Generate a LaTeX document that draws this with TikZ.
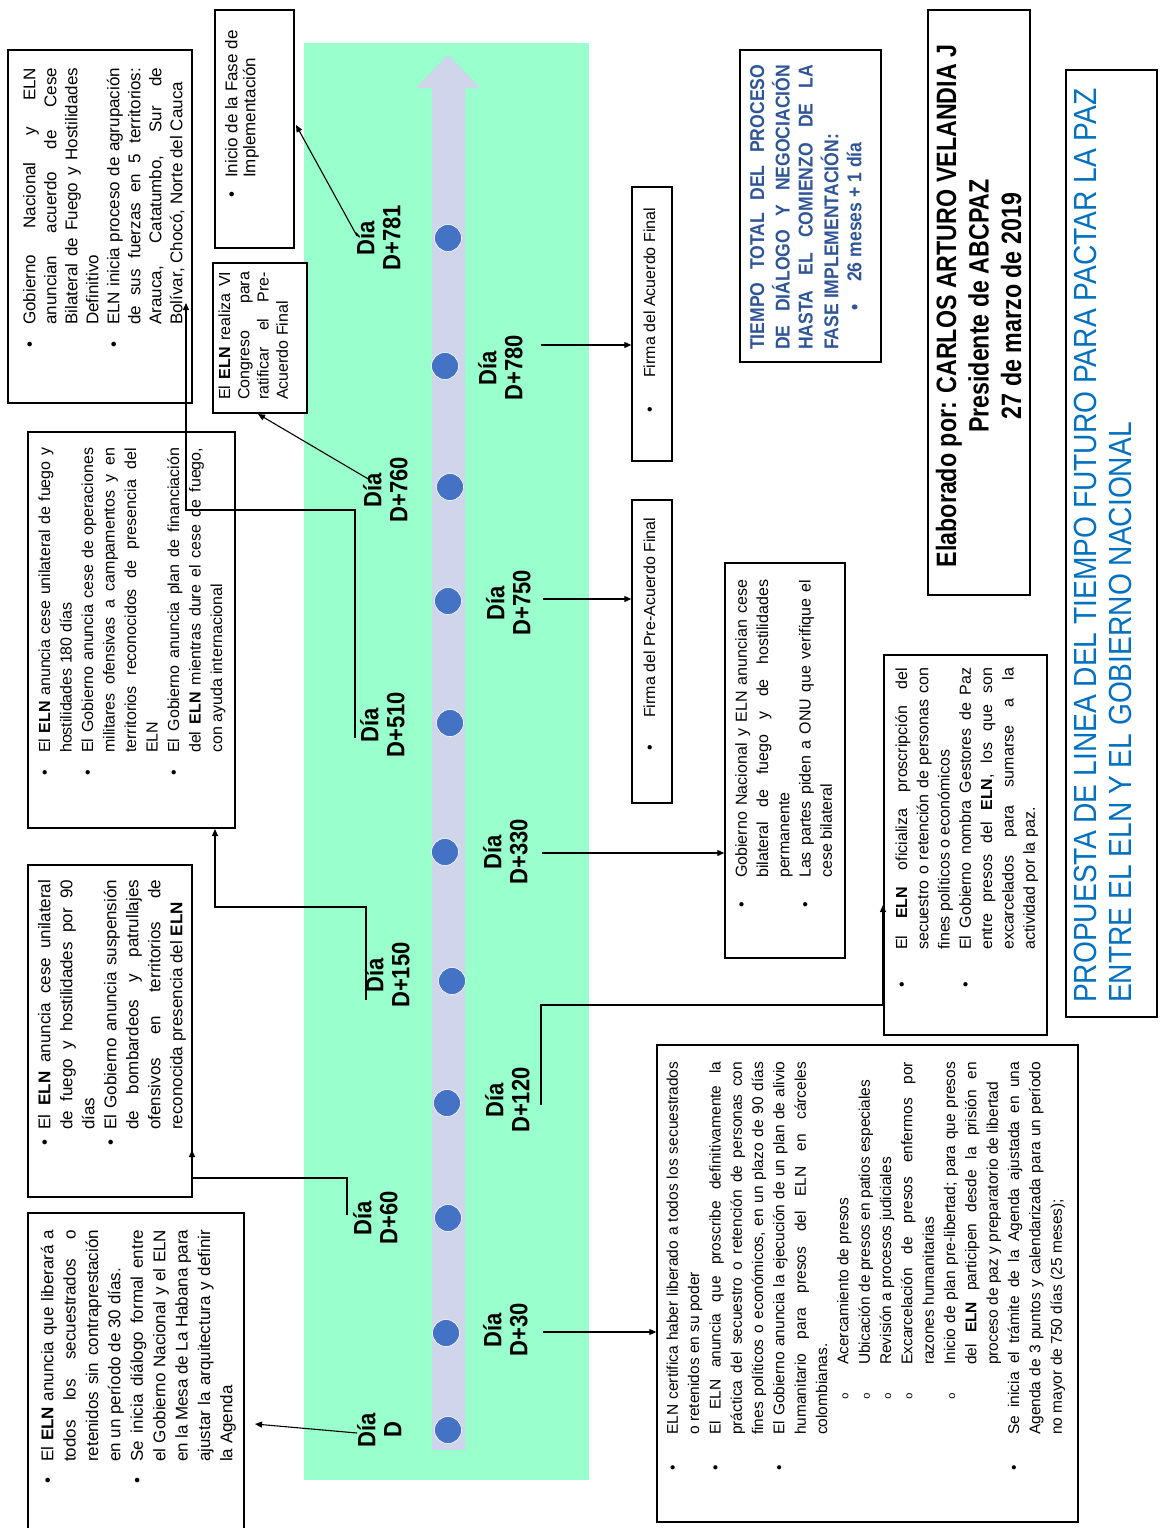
\documentclass[tikz,border=0pt]{standalone}
\usepackage{fontspec}
\setmainfont{Liberation Sans}
\newfontfamily\cond{Liberation Sans}[FakeStretch=0.88]
\newfontfamily\condb{Liberation Sans}[FakeStretch=0.83]
\newfontfamily\monof{Liberation Mono}
\usetikzlibrary{arrows.meta,fit}
\definecolor{mint}{RGB}{153,255,204}
\definecolor{lav}{RGB}{207,213,234}
\definecolor{dotblue}{RGB}{68,114,196}
\definecolor{tblue}{RGB}{47,85,151}
\definecolor{titleblue}{RGB}{0,112,192}
\newcommand\bul[1]{\strut\makebox[#1pt][l]{\textbullet}}
\newcommand\ind[1]{\strut\makebox[#1pt]{}}
\newcommand\jus[2]{\makebox[#1pt][s]{#2}}
\newcommand\subo{\ind{71}\makebox[35pt][l]{\monof\fontsize{11}{11}\selectfont o}}
\begin{document}
\begin{tikzpicture}[x=1pt,y=-1pt,
  box/.style={draw=black, line width=1.4pt, fill=white, inner sep=0pt},
  txt/.style={rotate=90, anchor=north west, align=left, inner sep=0pt, text=black},
  lbl/.style={rotate=90, align=center, inner sep=0pt, font=\cond\bfseries\fontsize{25}{26}\selectfont},
  tdot/.style={circle, fill=dotblue, draw=white, line width=0.6pt, minimum size=27pt, inner sep=0pt},
  conn/.style={draw=black, line width=1.1pt, -{Triangle[length=7pt,width=6pt]}},
  elbow/.style={draw=black, line width=1.4pt, -{Triangle[length=7pt,width=6pt]}}
]
\useasboundingbox (0,0) rectangle (1159,1528);
\clip (0,0) rectangle (1159,1528);
\fill[white] (0,0) rectangle (1159,1528);

% green band and timeline arrow
\fill[mint] (304,43) rectangle (589,1480);
\fill[lav] (432,1450) -- (432,88) -- (416,88) -- (448,55) -- (480,88) -- (465,88) -- (465,1450) -- cycle;

% dots
\node[tdot] (dD) at (448,1430) {};
\node[tdot] (d30) at (446,1333) {};
\node[tdot] (d60) at (448,1218) {};
\node[tdot] (d120) at (447,1103) {};
\node[tdot] (d150) at (452,981) {};
\node[tdot] (d330) at (445,852) {};
\node[tdot] (d510) at (450,723) {};
\node[tdot] (d750) at (448,601) {};
\node[tdot] (d760) at (450,487) {};
\node[tdot] (d780) at (445,366) {};
\node[tdot] (d781) at (448,238) {};

% day labels
\node[lbl] (lD) at (383,1430) {\strut Día\\\strut D};
\node[lbl] (l30) at (509,1330) {\strut Día\\\strut D+30};
\node[lbl] (l60) at (379,1218) {\strut Día\\\strut D+60};
\node[lbl] (l120) at (511,1100) {\strut Día\\\strut D+120};
\node[lbl] (l150) at (391,975) {\strut Día\\\strut D+150};
\node[lbl] (l330) at (509,852) {\strut Día\\\strut D+330};
\node[lbl] (l510) at (386,725) {\strut Día\\\strut D+510};
\node[lbl] (l750) at (512,603) {\strut Día\\\strut D+750};
\node[lbl] (l760) at (389,490) {\strut Día\\\strut D+760};
\node[lbl] (l780) at (504,368) {\strut Día\\\strut D+780};
\node[lbl] (l781) at (382,238) {\strut Día\\\strut D+781};

% boxes
\node[box, fit={(8,50) (192,403)}] (A) {};
\node[box, fit={(215,10) (294,248)}] (K) {};
\node[box, fit={(213,263) (307,413)}] (D) {};
\node[box, fit={(28,432) (235,828)}] (C) {};
\node[box, fit={(28,865) (192,1197)}] (B) {};
\node[box, fit={(28,1213) (244,1540)}] (E) {};
\node[box, fit={(632,187) (672,461)}] (J) {};
\node[box, fit={(632,500) (672,803)}] (I) {};
\node[box, fit={(725,563) (845,958)}] (H) {};
\node[box, fit={(884,655) (1047,1035)}] (G) {};
\node[box, fit={(657,1045) (1078,1522)}] (F) {};
\node[box, fit={(740,50) (881,362)}] (L) {};
\node[box, fit={(928,10) (1030,595)}] (M) {};
\node[box, fit={(1066,70) (1157,1017)}] (N) {};

% box texts
\node[txt, font=\fontsize{17}{22.4}\selectfont] (tE) at (37.4,1484) {%
\bul{22}\jus{232}{El \textbf{ELN} anuncia que liberará a}\\
\ind{22}\jus{232}{todos los secuestrados o}\\
\ind{22}\jus{232}{retenidos sin contraprestación}\\
\ind{22}en un período de 30 días.\\
\bul{22}\jus{232}{Se inicia diálogo formal entre}\\
\ind{22}\jus{232}{el Gobierno Nacional y el ELN}\\
\ind{22}\jus{232}{en la Mesa de La Habana para}\\
\ind{22}\jus{232}{ajustar la arquitectura y definir}\\
\ind{22}la Agenda};

\node[txt, font=\fontsize{17}{22}\selectfont] (tB) at (34.7,1146) {%
\bul{16}\jus{250}{El \textbf{ELN} anuncia cese unilateral}\\
\ind{16}\jus{250}{de fuego y hostilidades por 90}\\
\ind{16}días\\
\bul{16}\jus{250}{El Gobierno anuncia suspensión}\\
\ind{16}\jus{250}{de bombardeos y patrullajes}\\
\ind{16}\jus{250}{ofensivos en territorios de}\\
\ind{16}reconocida presencia del \textbf{ELN}};

\node[txt, font=\fontsize{16}{21.5}\selectfont] (tC) at (34.75,776) {%
\bul{23}\jus{305}{El \textbf{ELN} anuncia cese unilateral de fuego y}\\
\ind{23}hostilidades 180 días\\
\bul{23}\jus{305}{El Gobierno anuncia cese de operaciones}\\
\ind{23}\jus{305}{militares ofensivas a campamentos y en}\\
\ind{23}\jus{305}{territorios reconocidos de presencia del}\\
\ind{23}ELN\\
\bul{23}\jus{305}{El Gobierno anuncia plan de financiación}\\
\ind{23}\jus{305}{del \textbf{ELN} mientras dure el cese de fuego,}\\
\ind{23}con ayuda internacional};

\node[txt, font=\fontsize{17}{21}\selectfont] (tA) at (20.4,348) {%
\bul{23}\jus{257}{Gobierno Nacional y ELN}\\
\ind{23}\jus{257}{anuncian acuerdo de Cese}\\
\ind{23}\jus{257}{Bilateral de Fuego y Hostilidades}\\
\ind{23}Definitivo\\
\bul{23}\jus{257}{ELN inicia proceso de agrupación}\\
\ind{23}\jus{257}{de sus fuerzas en 5 territorios:}\\
\ind{23}\jus{257}{Arauca, Catatumbo, Sur de}\\
\ind{23}Bolívar, Chocó, Norte del Cauca};

\node[txt, font=\fontsize{17}{18}\selectfont] (tK) at (224.5,198) {%
\bul{20}Inicio de la Fase de\\
\ind{20}Implementación};

\node[txt, font=\fontsize{16}{19.3}\selectfont] (tD) at (216.3,400) {%
\strut\jus{128}{El \textbf{ELN} realiza VI}\\
\strut\jus{128}{Congreso para}\\
\strut\jus{128}{ratificar el Pre-}\\
\strut Acuerdo Final};

\node[txt, font=\fontsize{16}{20}\selectfont] (tJ) at (640.8,413) {\bul{35}Firma del Acuerdo Final};
\node[txt, font=\fontsize{16}{20}\selectfont] (tI) at (640.8,751) {\bul{33}Firma del Pre-Acuerdo Final};

\node[txt, font=\fontsize{16}{21.25}\selectfont] (tH) at (731.9,908) {%
\bul{30}\jus{298}{Gobierno Nacional y ELN anuncian cese}\\
\ind{30}\jus{298}{bilateral de fuego y de hostilidades}\\
\ind{30}permanente\\
\bul{30}\jus{298}{Las partes piden a ONU que verifique el}\\
\ind{30}cese bilateral};

\node[txt, font=\fontsize{16}{21.3}\selectfont] (tG) at (891.9,988) {%
\bul{38}\jus{282}{El \textbf{ELN} oficializa proscripción del}\\
\ind{38}\jus{282}{secuestro o retención de personas con}\\
\ind{38}fines políticos o económicos\\
\bul{38}\jus{282}{El Gobierno nombra Gestores de Paz}\\
\ind{38}\jus{282}{entre presos del \textbf{ELN}, los que son}\\
\ind{38}\jus{282}{excarcelados para sumarse a la}\\
\ind{38}actividad por la paz.};

\node[txt, font=\fontsize{15.5}{21.33}\selectfont] (tF) at (662.7,1471) {%
\bul{36}\jus{373}{ELN certifica haber liberado a todos los secuestrados}\\
\ind{36}o retenidos en su poder\\
\bul{36}\jus{373}{El ELN anuncia que proscribe definitivamente la}\\
\ind{36}\jus{373}{práctica del secuestro o retención de personas con}\\
\ind{36}\jus{373}{fines políticos o económicos, en un plazo de 90 días}\\
\bul{36}\jus{373}{El Gobierno anuncia la ejecución de un plan de alivio}\\
\ind{36}\jus{373}{humanitario para presos del ELN en cárceles}\\
\ind{36}colombianas.\\
\subo Acercamiento de presos\\
\subo Ubicación de presos en patios especiales\\
\subo Revisión a procesos judiciales\\
\subo\jus{303}{Excarcelación de presos enfermos por}\\
\ind{106}razones humanitarias\\
\subo\jus{303}{Inicio de plan pre-libertad; para que presos}\\
\ind{106}\jus{303}{del \textbf{ELN} participen desde la prisión en}\\
\ind{106}proceso de paz y preparatorio de libertad\\
\bul{36}\jus{373}{Se inicia el trámite de la Agenda ajustada en una}\\
\ind{36}\jus{373}{Agenda de 3 puntos y calendarizada para un período}\\
\ind{36}no mayor de 750 días (25 meses);};

\node[txt, text=tblue, font=\cond\bfseries\fontsize{20}{23}\selectfont] (tL) at (747.7,350) {%
\strut\jus{285}{TIEMPO TOTAL DEL PROCESO}\\
\strut\jus{285}{DE DIÁLOGO Y NEGOCIACIÓN}\\
\strut\jus{285}{HASTA EL COMIENZO DE LA}\\
\strut FASE IMPLEMENTACIÓN:\\
\ind{39}\makebox[29pt][l]{\textbullet}26 meses + 1 día};

\node[rotate=90, align=center, inner sep=0pt, font=\condb\bfseries\fontsize{28}{32.5}\selectfont] (tM) at (982,306) {%
\strut Elaborado por: CARLOS ARTURO VELANDIA J\\
\strut Presidente de ABCPAZ\\
\strut 27 de marzo de 2019};

\node[txt, text=titleblue, font=\cond\fontsize{32}{35}\selectfont] (tN) at (1072,1003) {%
\strut PROPUESTA DE LINEA DEL TIEMPO FUTURO PARA PACTAR LA PAZ\\
\strut ENTRE EL ELN Y EL GOBIERNO NACIONAL};

% connector coordinates
\coordinate (sD) at (357,1433);
\coordinate (aE) at (255,1424);
\coordinate (s30) at (543,1332);
\coordinate (s60) at (347,1215);
\coordinate (k60) at (347,1178);
\coordinate (aB) at (192,1150);
\coordinate (s120) at (541,1105);
\coordinate (k120) at (541,1005);
\coordinate (aG) at (883,905);
\coordinate (s150) at (366,1000);
\coordinate (k150) at (366,907);
\coordinate (aC) at (215,829);
\coordinate (s330) at (542,853);
\coordinate (s510) at (355,738);
\coordinate (k510) at (355,510);
\coordinate (aA) at (186,303);
\coordinate (s750) at (543,599);
\coordinate (s760) at (370,480);
\coordinate (aD) at (258,414);
\coordinate (s780) at (541,345);
\coordinate (s781) at (357,236);
\coordinate (aK) at (296,125);

% connectors
\draw[conn] (sD) -- (aE);
\draw[conn] (s30) -- (s30 -| F.west);
\draw[elbow] (s60) -- (k60) -| (aB);
\draw[conn] (s120) -- (k120) -| (aG);
\draw[elbow] (s150) -- (k150) -| (aC);
\draw[conn] (s330) -- (s330 -| H.west);
\draw[elbow] (s510) -- (k510) -| (aA);
\draw[conn] (s750) -- (s750 -| I.west);
\draw[conn] (s760) -- (aD);
\draw[conn] (s780) -- (s780 -| J.west);
\draw[conn] (s781) -- (aK);
\end{tikzpicture}
\end{document}
